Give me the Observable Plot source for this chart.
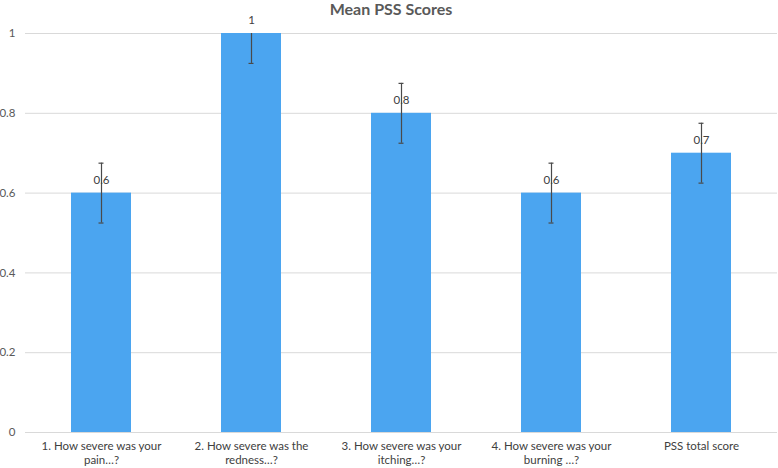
<!DOCTYPE html>
<html>
<head>
<meta charset="utf-8">
<script src="https://cdn.jsdelivr.net/npm/d3@7"></script>
<script src="https://cdn.jsdelivr.net/npm/@observablehq/plot@0.6"></script>
<style>
  html, body { margin: 0; padding: 0; background: #fff; }
  body { width: 778px; height: 468px; overflow: hidden; font-family: Lato, sans-serif; }
  #title { height: 18px; line-height: 17px; margin: 0; text-align: center; font-weight: bold; font-size: 16px; color: #595959; padding-left: 4px; }
  svg { overflow: visible; display: block; }
</style>
</head>
<body>
<div id="title">Mean PSS Scores</div>
<div id="chart"></div>
<script>
const categories = [
  "1. How severe was your\npain…?",
  "2. How severe was the\nredness…?",
  "3. How severe was your\nitching…?",
  "4. How severe was your\nburning …?",
  "PSS total score"
];
const means = [0.6, 1, 0.8, 0.6, 0.7];
const errors = [0.075, 0.075, 0.075, 0.075, 0.075];
const valueLabels = ["0.6", "1", "0.8", "0.6", "0.7"];
const yTicks = [0, 0.2, 0.4, 0.6, 0.8, 1];

const data = categories.map((c, i) => ({
  cat: c, mean: means[i], lo: means[i] - errors[i], hi: means[i] + errors[i], label: valueLabels[i]
}));

const chart = Plot.plot({
  width: 778,
  height: 450,
  marginTop: 15,
  marginBottom: 36,
  marginLeft: 25,
  marginRight: 1,
  style: { fontFamily: "Lato, sans-serif", fontSize: "11px", color: "#595959", background: "#fff" },
  x: { domain: categories, paddingInner: 0.6, paddingOuter: 0.3, label: null, tickSize: 0 },
  y: { domain: [0, 1], ticks: yTicks, label: null, tickSize: 0, tickFormat: d => String(d) },
  marks: [
    Plot.gridY(yTicks, { stroke: "#d9d9d9", strokeOpacity: 1, strokeWidth: 1 }),
    Plot.barY(data, { x: "cat", y: "mean", fill: "#4ba5f0" }),
    Plot.ruleX(data, { x: "cat", y1: "lo", y2: "hi", stroke: "#4a4a4a", strokeWidth: 1.2, clip: true }),
    Plot.tickY(data, { x: "cat", y: "lo", stroke: "#4a4a4a", strokeWidth: 1.2, inset: 27.5, clip: true }),
    Plot.tickY(data, { x: "cat", y: "hi", stroke: "#4a4a4a", strokeWidth: 1.2, inset: 27.5, clip: true }),
    Plot.text(data, { x: "cat", y: "mean", text: "label", dy: -13, fill: "#404040", fontSize: 11.5 }),
    Plot.axisY(yTicks, { tickSize: 0, tickPadding: 10, textAnchor: "end", fill: "#595959", fontSize: 11.5, tickFormat: d => String(d) }),
    Plot.axisX({ tickSize: 0, tickPadding: 8, fill: "#404040", fontSize: 11.5, lineHeight: 1.2, label: null })
  ]
});
document.getElementById("chart").appendChild(chart);
</script>
</body>
</html>
